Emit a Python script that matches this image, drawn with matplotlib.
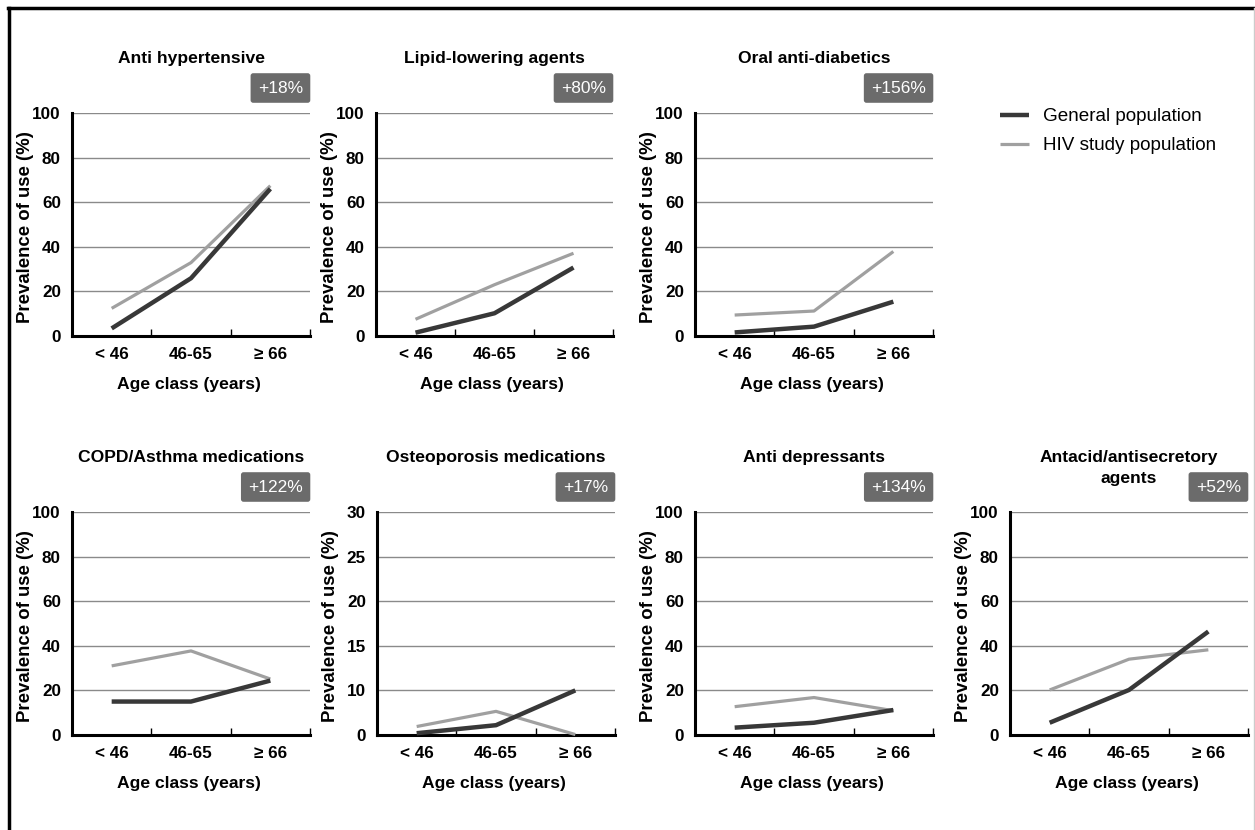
import numpy as np
import matplotlib
matplotlib.use("Agg")
import matplotlib.pyplot as plt
from matplotlib.lines import Line2D

plt.rcParams['font.family'] = ['Liberation Sans', 'DejaVu Sans']

# ---------------- data ----------------
age_classes = ["< 46", "46-65", "\u2265 66"]
titles = ["Anti hypertensive", "Lipid-lowering agents", "Oral anti-diabetics",
          "COPD/Asthma medications", "Osteoporosis medications", "Anti depressants",
          "Antacid/antisecretory\nagents"]
badges = ["+18%", "+80%", "+156%", "+122%", "+17%", "+134%", "+52%"]
general_pop = [
    [3.4, 25.9, 66.0],
    [1.5, 10.2, 30.7],
    [1.6, 4.2, 15.4],
    [15.0, 15.0, 24.4],
    [0.4, 2.2, 10.0],
    [3.3, 5.5, 11.2],
    [5.5, 20.2, 46.4],
]
hiv_pop = [
    [12.4, 32.9, 67.4],
    [7.5, 23.0, 37.1],
    [9.4, 11.2, 37.9],
    [31.0, 37.7, 25.1],
    [1.9, 5.3, 0.1],
    [12.7, 16.8, 10.9],
    [20.2, 34.0, 38.2],
]
yticks_std = [0, 20, 40, 60, 80, 100]
yticks_osteo = [0, 10, 15, 20, 25, 30]
series_labels = ["General population", "HIV study population"]

# ---------------- style ----------------
W, H = 1255, 830
C_GEN = "#383838"
C_HIV = "#a0a0a0"
C_BADGE = "#6b6b6b"
C_GRID = "#8a8a8a"

fig = plt.figure(figsize=(W / 100, H / 100), dpi=100)

# axes rectangles in pixels: (left, right, top, bottom)
rects = [
    (72, 310, 113, 336), (376, 613, 113, 336), (695, 933, 113, 336),
    (72, 310, 512, 735), (377, 615, 512, 735), (695, 933, 512, 735), (1010, 1248, 512, 735),
]


def fwd(y):
    y = np.asarray(y, dtype=float)
    return np.where(y <= 10, y / 2.0, y - 5.0)


def inv(u):
    u = np.asarray(u, dtype=float)
    return np.where(u <= 5, u * 2.0, u + 5.0)


handles = None
for i, (l, r, t, b) in enumerate(rects):
    ax = fig.add_axes([l / W, 1 - b / H, (r - l) / W, (b - t) / H])
    x = np.arange(len(age_classes))
    hh, = ax.plot(x, hiv_pop[i], color=C_HIV, lw=2.3, solid_joinstyle='round',
                  solid_capstyle='butt', clip_on=False, zorder=3)
    hg, = ax.plot(x, general_pop[i], color=C_GEN, lw=3.2, solid_joinstyle='round',
                  solid_capstyle='butt', clip_on=False, zorder=4)
    if handles is None:
        handles = [hg, hh]
    if i == 4:
        ax.set_yscale('function', functions=(fwd, inv))
        ax.set_ylim(0, 30)
        ax.set_yticks(yticks_osteo)
        ax.set_yticklabels([str(v) for v in yticks_osteo])
    else:
        ax.set_ylim(0, 100)
        ax.set_yticks(yticks_std)
        ax.set_yticklabels([str(v) for v in yticks_std])
    ax.yaxis.set_minor_locator(matplotlib.ticker.NullLocator())
    ax.set_xlim(-0.5, 2.5)
    ax.set_xticks(x)
    ax.set_xticklabels(age_classes)
    ax.set_xticks([0.5, 1.5, 2.5], minor=True)
    ax.tick_params(axis='x', which='major', length=0, pad=8, labelsize=12.3)
    ax.tick_params(axis='x', which='minor', direction='in', length=5, width=1, color='black')
    ax.tick_params(axis='y', which='major', length=0, pad=8, labelsize=12.3)
    for lab in ax.get_xticklabels() + ax.get_yticklabels():
        lab.set_fontweight('bold')
    ax.grid(axis='y', color=C_GRID, lw=1.0)
    ax.set_axisbelow(True)
    for s in ['top', 'right']:
        ax.spines[s].set_visible(False)
    for s in ['left', 'bottom']:
        ax.spines[s].set_linewidth(2.2)
        ax.spines[s].set_color('black')
    ax.set_ylabel("Prevalence of use (%)", fontsize=13.4, fontweight='bold')
    ax.yaxis.set_label_coords(-38 / (r - l), 0.49)
    ax.set_xlabel("Age class (years)", fontsize=12.6, fontweight='bold', va='center')
    ax.xaxis.set_label_coords(0.49, -48 / (b - t))
    # title (one text per line)
    for k, line in enumerate(titles[i].split("\n")):
        ax.text(0.5, 1 + (62 - 21 * k) / (b - t), line, transform=ax.transAxes,
                ha='center', va='top', fontsize=12.6, fontweight='bold')
    # badge
    ax.text(1 - 7 / (r - l), 1 + 25 / (b - t), badges[i], transform=ax.transAxes,
            ha='right', va='center', fontsize=12.5, color='white',
            bbox=dict(boxstyle='round,pad=0.42,rounding_size=0.15', fc=C_BADGE, ec='none'))

fig.legend(handles, series_labels, loc='upper left', bbox_to_anchor=(1000 / W, 1 - 108 / H),
           frameon=False, fontsize=13.6, handlelength=1.55, handletextpad=0.75,
           labelspacing=0.62, borderpad=0, borderaxespad=0)

# figure frame
fig.add_artist(Line2D([9 / W, 9 / W], [0, 1 - 8 / H], color='black', lw=2.5, transform=fig.transFigure))
fig.add_artist(Line2D([8 / W, 1], [1 - 8 / H, 1 - 8 / H], color='black', lw=2.5, transform=fig.transFigure))
fig.add_artist(Line2D([1254 / W, 1254 / W], [0, 1 - 8 / H], color='#cccccc', lw=1, transform=fig.transFigure))

fig.savefig("out.png", dpi=100)
